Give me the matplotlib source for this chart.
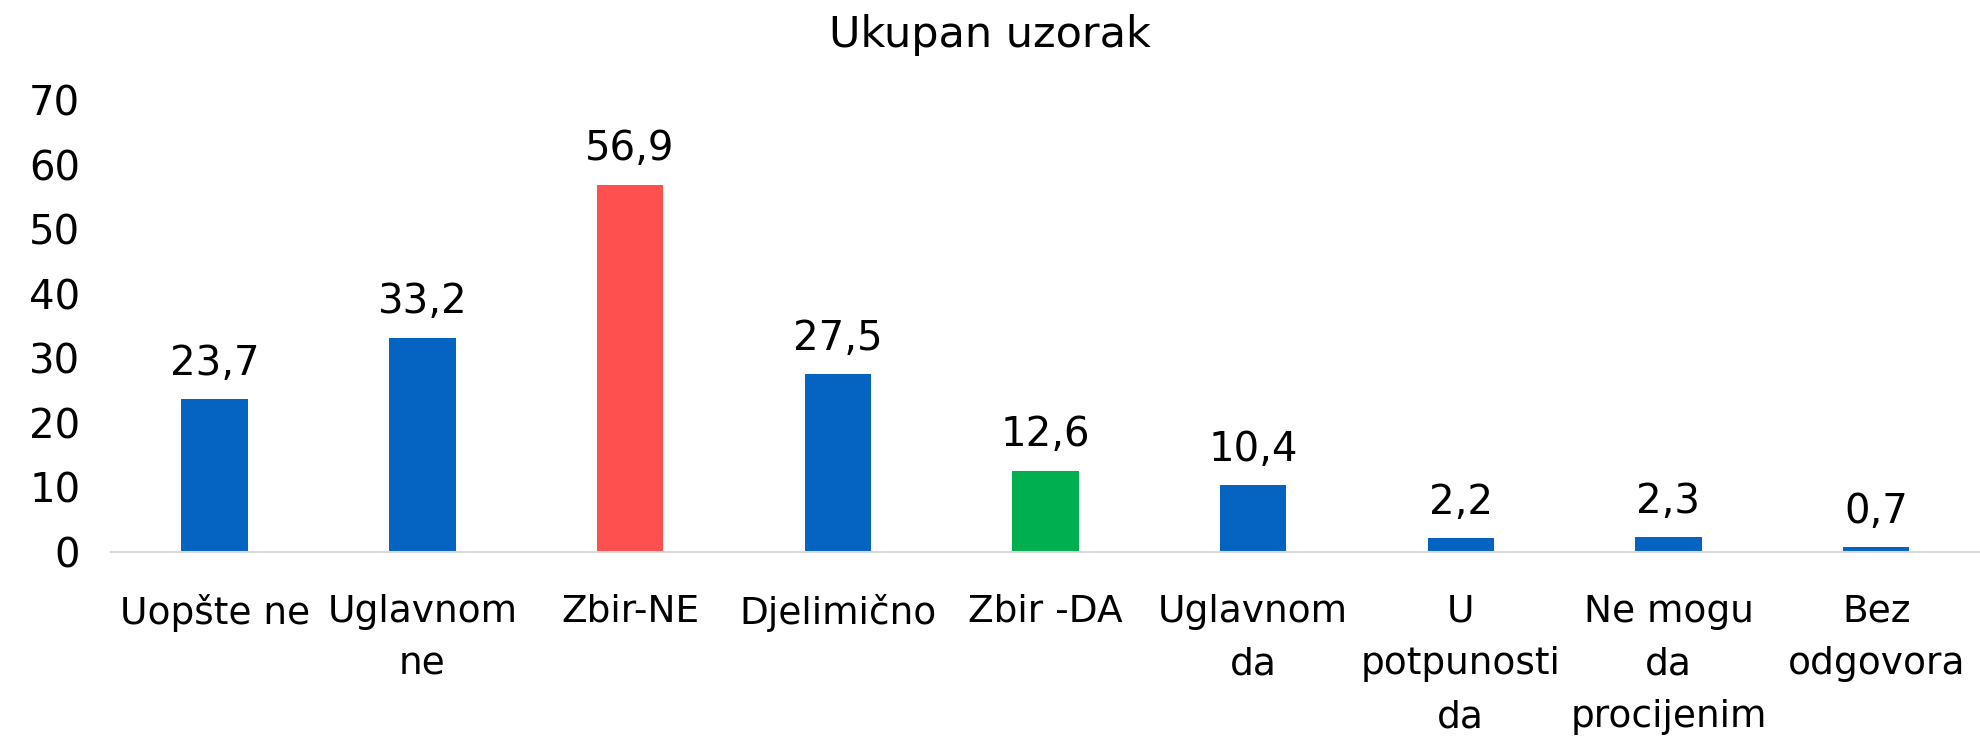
import matplotlib.pyplot as plt

categories = ["Uopšte ne", "Uglavnom\nne", "Zbir-NE", "Djelimično", "Zbir -DA",
              "Uglavnom\nda", "U\npotpunosti\nda", "Ne mogu\nda\nprocijenim", "Bez\nodgovora"]
values = [23.7, 33.2, 56.9, 27.5, 12.6, 10.4, 2.2, 2.3, 0.7]
value_labels = ["23,7", "33,2", "56,9", "27,5", "12,6", "10,4", "2,2", "2,3", "0,7"]
bar_colors = ["#0563C1", "#0563C1", "#FF5050", "#0563C1", "#00B050",
              "#0563C1", "#0563C1", "#0563C1", "#0563C1"]
yticks = [0, 10, 20, 30, 40, 50, 60, 70]

plt.rcParams['font.family'] = ['DejaVu Sans']

fig = plt.figure(figsize=(19.8, 7.36), dpi=100)
ax = fig.add_axes([0.056, 0.25, 0.944, 0.614])

x = range(len(categories))
ax.bar(x, values, width=0.32, color=bar_colors)
for i, v in enumerate(values):
    ax.annotate(value_labels[i], (i, v), xytext=(0, 11), textcoords="offset points",
                ha="center", va="bottom", fontsize=29)

ax.set_xlim(-0.5, len(categories) - 0.5)
ax.set_ylim(0, 70)
ax.set_yticks(yticks)
ax.set_yticklabels([str(t) for t in yticks], fontsize=29)
ax.set_xticks(list(x))
ax.set_xticklabels(categories, fontsize=27, linespacing=1.6)
ax.tick_params(axis="y", length=0, pad=22)
ax.tick_params(axis="x", length=0, pad=30)
for s in ["top", "right", "left"]:
    ax.spines[s].set_visible(False)
ax.spines["bottom"].set_color("#D9D9D9")
ax.spines["bottom"].set_linewidth(1.5)

fig.text(0.5, 0.952, "Ukupan uzorak", ha="center", va="center", fontsize=31)

fig.savefig("out.png")
